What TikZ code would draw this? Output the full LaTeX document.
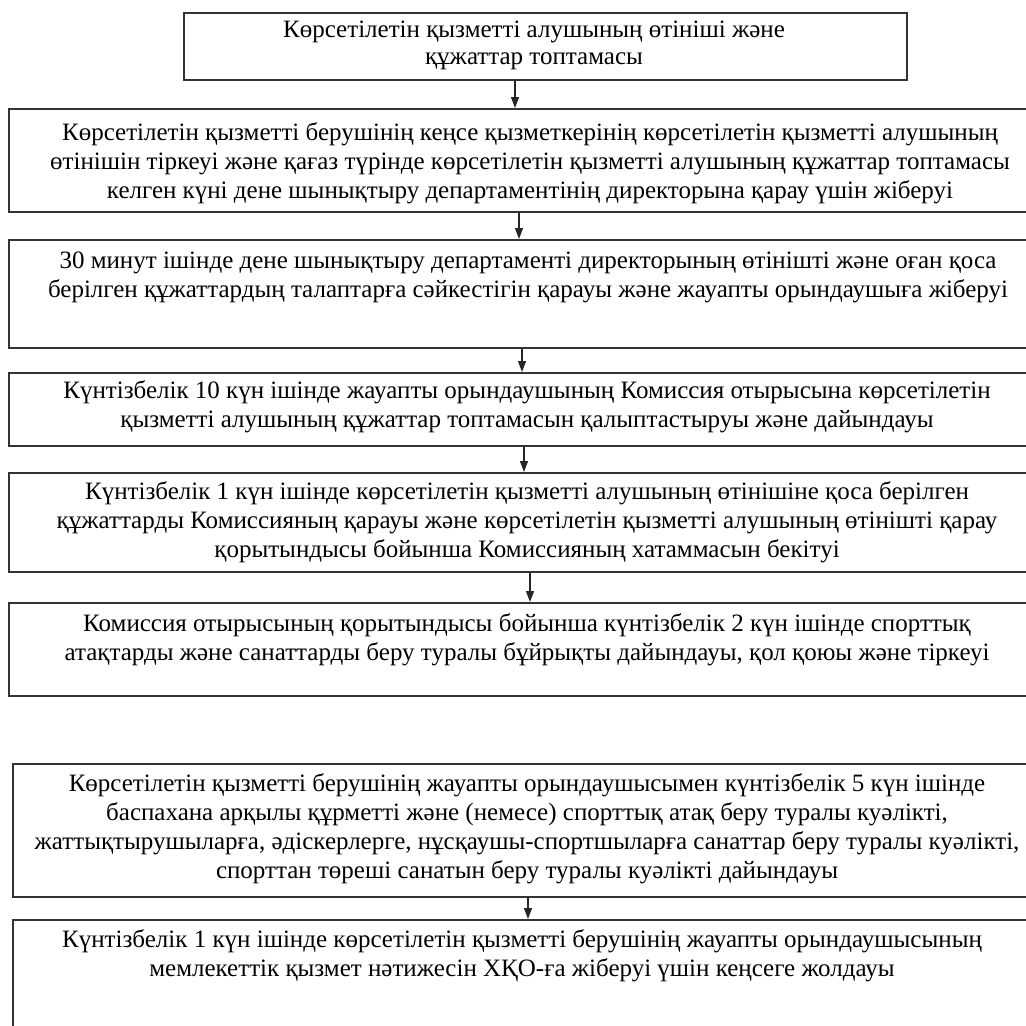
\documentclass[tikz,border=0pt]{standalone}
\usepackage{fontspec}
\setmainfont{Liberation Serif}
\usetikzlibrary{arrows.meta}

\begin{document}
\begin{tikzpicture}[x=1pt,y=-1pt]
	\tikzset{
		box/.style={draw=black!80, line width=1.5pt, anchor=north west, inner sep=0pt},
		txt/.style={align=center, inner sep=0pt, font=\fontsize{25}{29}\selectfont},
		arr/.style={-{Triangle[length=11pt,width=8pt]}, line width=1.2pt, black!85}
	}
	\useasboundingbox (0,0) rectangle (1026,1026);
	\clip (0,0) rectangle (1026,1026);
	% boxes
	\node[box, minimum width=723, minimum height=67] (b1) at (183,12) {};
	\node[box, minimum width=1040, minimum height=103] (b2) at (8,108) {};
	\node[box, minimum width=1040, minimum height=108] (b3) at (8,239) {};
	\node[box, minimum width=1040, minimum height=73] (b4) at (8,372) {};
	\node[box, minimum width=1040, minimum height=99] (b5) at (8,472) {};
	\node[box, minimum width=1040, minimum height=93] (b6) at (8,602) {};
	\node[box, minimum width=1040, minimum height=133] (b7) at (12,763) {};
	\node[box, minimum width=1040, minimum height=140] (b8) at (12,919) {};
	% texts
	\node[txt, font=\fontsize{25}{27}\selectfont] (t1) at (534,45) {Көрсетілетін қызметті алушының өтініші және\\құжаттар топтамасы};
	\node[txt] (t2) at (530,163) {Көрсетілетін қызметті берушінің кеңсе қызметкерінің көрсетілетін қызметті алушының\\өтінішін тіркеуі және қағаз түрінде көрсетілетін қызметті алушының құжаттар топтамасы\\келген күні дене шынықтыру департаментінің директорына қарау үшін жіберуі};
	\node[txt] (t3) at (528,277) {30 минут ішінде дене шынықтыру департаменті директорының өтінішті және оған қоса\\берілген құжаттардың талаптарға сәйкестігін қарауы және жауапты орындаушыға жіберуі};
	\node[txt] (t4) at (527,407) {Күнтізбелік 10 күн ішінде жауапты орындаушының Комиссия отырысына көрсетілетін\\қызметті алушының құжаттар топтамасын қалыптастыруы және дайындауы};
	\node[txt] (t5) at (527,522) {Күнтізбелік 1 күн ішінде көрсетілетін қызметті алушының өтінішіне қоса берілген\\құжаттарды Комиссияның қарауы және көрсетілетін қызметті алушының өтінішті қарау\\қорытындысы бойынша Комиссияның хатаммасын бекітуі};
	\node[txt] (t6) at (527,640) {Комиссия отырысының қорытындысы бойынша күнтізбелік 2 күн ішінде спорттық\\атақтарды және санаттарды беру туралы бұйрықты дайындауы, қол қоюы және тіркеуі};
	\node[txt] (t7) at (527,829) {Көрсетілетін қызметті берушінің жауапты орындаушысымен күнтізбелік 5 күн ішінде\\баспахана арқылы құрметті және (немесе) спорттық атақ беру туралы куәлікті,\\жаттықтырушыларға, әдіскерлерге, нұсқаушы-спортшыларға санаттар беру туралы куәлікті,\\спорттан төреші санатын беру туралы куәлікті дайындауы};
	\node[txt] (t8) at (522,956) {Күнтізбелік 1 күн ішінде көрсетілетін қызметті берушінің жауапты орындаушысының\\мемлекеттік қызмет нәтижесін ХҚО-ға жіберуі үшін кеңсеге жолдауы};
	% arrows
	\draw[arr] (b1.south -| 515,0) -- (b2.north -| 515,0);
	\draw[arr] (b2.south -| 519,0) -- (b3.north -| 519,0);
	\draw[arr] (b3.south -| 522,0) -- (b4.north -| 522,0);
	\draw[arr] (b4.south -| 524,0) -- (b5.north -| 524,0);
	\draw[arr] (b5.south -| 530,0) -- (b6.north -| 530,0);
	\draw[arr] (b7.south -| 528,0) -- (b8.north -| 528,0);
\end{tikzpicture}
\end{document}
